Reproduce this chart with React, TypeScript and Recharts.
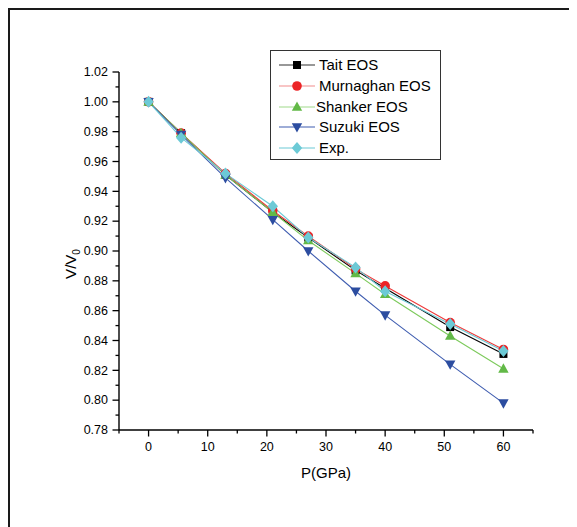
import React from 'react';
import { LineChart, Line, XAxis, YAxis, Legend } from 'recharts';

// ---- data ----
const PRESSURE = [0, 5.5, 13, 21, 27, 35, 40, 51, 60];
const TAIT = [1.0, 0.979, 0.951, 0.926, 0.909, 0.887, 0.875, 0.849, 0.831];
const MURNAGHAN = [1.0, 0.979, 0.952, 0.927, 0.91, 0.888, 0.8766, 0.852, 0.834];
const SHANKER = [1.0, 0.979, 0.951, 0.926, 0.907, 0.885, 0.871, 0.843, 0.821];
const SUZUKI = [1.0, 0.978, 0.949, 0.921, 0.9, 0.873, 0.857, 0.824, 0.798];
const EXP = [1.0, 0.976, 0.952, 0.93, 0.909, 0.889, 0.873, 0.851, 0.833];

const X_TICKS = [-5, 0, 5, 10, 15, 20, 25, 30, 35, 40, 45, 50, 55, 60, 65];
const X_LABELS = [0, 10, 20, 30, 40, 50, 60];
const Y_TICKS = [0.78, 0.79, 0.8, 0.81, 0.82, 0.83, 0.84, 0.85, 0.86, 0.87, 0.88, 0.89, 0.9, 0.91, 0.92, 0.93, 0.94, 0.95, 0.96, 0.97, 0.98, 0.99, 1.0, 1.01, 1.02];
const Y_LABELS = [0.78, 0.8, 0.82, 0.84, 0.86, 0.88, 0.9, 0.92, 0.94, 0.96, 0.98, 1.0, 1.02];

const SERIES_NAMES = ['Tait EOS', 'Murnaghan EOS', 'Shanker EOS', 'Suzuki EOS', 'Exp.'];
const SERIES_KEYS = ['tait', 'murnaghan', 'shanker', 'suzuki', 'exp'];
const SERIES_VALUES = [TAIT, MURNAGHAN, SHANKER, SUZUKI, EXP];

// ---- styles ----
const FONT = '"Liberation Sans", Arial, sans-serif';
const MARKER_SHAPES = ['square', 'circle', 'up', 'down', 'diamond'];
const MARKER_COLORS = ['#000000', '#ec2427', '#62b947', '#2c4da0', '#6ccad6'];
const LINE_COLORS = ['#000000', '#ee3a3a', '#7dca5c', '#3f5db0', '#6ccad6'];
const LEGEND_LINE_COLORS = ['#333333', '#f28c8c', '#9fd98a', '#3f5db0', '#6ccad6'];

const data = PRESSURE.map((p, i) => {
  const row: any = { p };
  SERIES_KEYS.forEach((k, s) => {
    row[k] = SERIES_VALUES[s][i];
  });
  return row;
});

function Marker({ shape, cx, cy, color }: any) {
  if (cx == null || cy == null) return null;
  switch (shape) {
    case 'square':
      return <rect x={cx - 4} y={cy - 4} width={8} height={8} fill={color} />;
    case 'circle':
      return <circle cx={cx} cy={cy} r={4.8} fill={color} />;
    case 'up':
      return <polygon points={`${cx},${cy - 5.5} ${cx + 5.2},${cy + 3.8} ${cx - 5.2},${cy + 3.8}`} fill={color} />;
    case 'down':
      return <polygon points={`${cx},${cy + 5.5} ${cx + 5.2},${cy - 3.8} ${cx - 5.2},${cy - 3.8}`} fill={color} />;
    case 'diamond':
      return <polygon points={`${cx},${cy - 6} ${cx + 5.2},${cy} ${cx},${cy + 6} ${cx - 5.2},${cy}`} fill={color} />;
    default:
      return null;
  }
}

const XTick = (props: any) => {
  const { x, y, payload } = props;
  const v = payload.value;
  const major = X_LABELS.includes(v);
  return (
    <g>
      <line x1={x} x2={x} y1={y} y2={y + (major ? 6.5 : 3.5)} stroke="#000" strokeWidth={1.3} />
      {major && (
        <text x={x} y={y + 21} textAnchor="middle" fontSize={12.5} fontFamily={FONT} fill="#000">
          {v}
        </text>
      )}
    </g>
  );
};

const YTick = (props: any) => {
  const { x, y, payload } = props;
  const v = payload.value;
  const major = Y_LABELS.some((l) => Math.abs(l - v) < 1e-6);
  return (
    <g>
      <line x1={x - (major ? 6.5 : 3.5)} x2={x} y1={y} y2={y} stroke="#000" strokeWidth={1.3} />
      {major && (
        <text x={x - 11} y={y + 4.3} textAnchor="end" fontSize={12.5} fontFamily={FONT} fill="#000">
          {v.toFixed(2)}
        </text>
      )}
    </g>
  );
};

// x-axis title, together with the figure's outer frame (left and top edges)
const XLabel = () => (
  <g>
    <path d="M 9 560 V 9 H 600" fill="none" stroke="#1a1a1a" strokeWidth={2} />
    <text x={326} y={478} textAnchor="middle" fontSize={15} fontFamily={FONT} fill="#000">
      P(GPa)
    </text>
  </g>
);

const YLabel = () => (
  <text x={76} y={264} transform="rotate(-90, 76, 264)" textAnchor="middle" fontSize={15} fontFamily={FONT} fill="#000">
    V/V
    <tspan dy={4} fontSize={10}>
      0
    </tspan>
  </text>
);

const LegendContent = () => (
  <div
    style={{
      position: 'relative',
      width: 171,
      height: 110,
      boxSizing: 'border-box',
      border: '1.3px solid #333',
      background: '#fff',
      fontFamily: FONT,
    }}
  >
    {SERIES_NAMES.map((name, i) => {
      const cy = 14.3 + i * 20.6;
      return (
        <div key={name} style={{ position: 'absolute', left: 0, top: cy - 10, height: 20, width: 169 }}>
          <svg width={40} height={20} style={{ position: 'absolute', left: 7, top: 0 }}>
            <line x1={1} x2={37} y1={10} y2={10} stroke={LEGEND_LINE_COLORS[i]} strokeWidth={1.2} />
            <Marker shape={MARKER_SHAPES[i]} cx={19} cy={10} color={MARKER_COLORS[i]} />
          </svg>
          <span style={{ position: 'absolute', left: i === 2 ? 45 : 48, top: 0, lineHeight: '20px', fontSize: 15, color: '#000', whiteSpace: 'nowrap' }}>
            {name}
          </span>
        </div>
      );
    })}
  </div>
);

export default function App() {
  return (
    <div style={{ position: 'relative', width: 577, height: 527, marginLeft: -8, marginTop: -8, overflow: 'hidden', background: '#fff', fontFamily: FONT }}>
      <LineChart width={577} height={527} data={data} margin={{ top: 72, right: 44, left: 0, bottom: 0 }}>
        <XAxis
          dataKey="p"
          type="number"
          domain={[-5, 65]}
          ticks={X_TICKS}
          interval={0}
          allowDataOverflow
          tickLine={false}
          tickSize={0}
          tickMargin={0}
          axisLine={{ stroke: '#000', strokeWidth: 1.4 }}
          height={97}
          tick={<XTick />}
          label={<XLabel />}
        />
        <YAxis
          type="number"
          domain={[0.78, 1.02]}
          ticks={Y_TICKS}
          interval={0}
          allowDataOverflow
          tickLine={false}
          tickSize={0}
          tickMargin={0}
          axisLine={{ stroke: '#000', strokeWidth: 1.4 }}
          width={119}
          tick={<YTick />}
          label={<YLabel />}
        />
        <Legend
          layout="vertical"
          align="center"
          verticalAlign="middle"
          wrapperStyle={{ left: 270, top: 50, width: 171, height: 110 }}
          content={<LegendContent />}
        />
        {SERIES_KEYS.map((k, i) => (
          <Line
            key={k}
            type="linear"
            dataKey={k}
            name={SERIES_NAMES[i]}
            stroke={LINE_COLORS[i]}
            strokeWidth={1.1}
            isAnimationActive={false}
            activeDot={false}
            dot={(props: any) => (
              <Marker key={`${k}-${props.index}`} shape={MARKER_SHAPES[i]} cx={props.cx} cy={props.cy} color={MARKER_COLORS[i]} />
            )}
          />
        ))}
      </LineChart>
    </div>
  );
}
